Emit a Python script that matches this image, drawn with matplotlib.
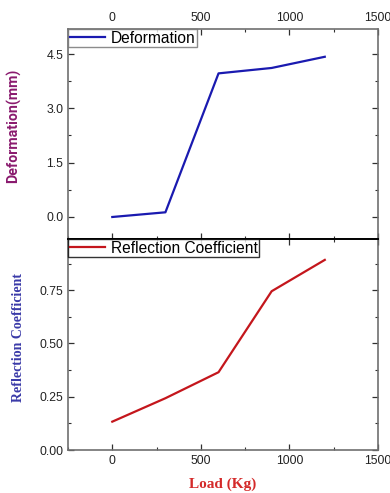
import matplotlib

matplotlib.use("Agg")

import matplotlib.pyplot as plt
from matplotlib.ticker import MultipleLocator

plt.rcParams["font.family"] = ["Liberation Sans", "DejaVu Sans"]

# data
load_kg = [0, 300, 600, 900, 1200]
deformation_mm = [-0.01, 0.12, 3.97, 4.12, 4.43]
reflection_coef = [0.133, 0.243, 0.365, 0.745, 0.892]

x_ticks = [0, 500, 1000, 1500]
deform_ticks = [0.0, 1.5, 3.0, 4.5]
refl_ticks = [0.00, 0.25, 0.50, 0.75]

SPINE = "#707070"
SANS = ["Liberation Sans", "DejaVu Sans"]
SERIF = ["Liberation Serif", "DejaVu Serif"]


def style_axes(ax, top_labels):
    for side in ["left", "right", "top", "bottom"]:
        ax.spines[side].set_color(SPINE)
        ax.spines[side].set_linewidth(1.2)
    ax.tick_params(which="both", direction="in", top=True, right=True, bottom=True, left=True,
                   color="#303030", labelsize=8.8, labelcolor="#222222")
    ax.tick_params(which="major", length=4, width=0.9)
    ax.tick_params(which="minor", length=2.5, width=0.8)
    ax.tick_params(axis="x", labeltop=top_labels, labelbottom=not top_labels)
    ax.xaxis.set_minor_locator(MultipleLocator(250))
    ax.set_xticks(x_ticks)
    ax.set_xlim(-250, 1500)


def add_legend(ax, edge):
    leg = ax.legend(loc="upper left", bbox_to_anchor=(0.0, 1.0), borderaxespad=0.0,
                    prop={"family": SANS, "size": 11.2}, frameon=True, fancybox=False,
                    handlelength=2.3, borderpad=0.1, handletextpad=0.35)
    leg.get_frame().set_edgecolor(edge)
    leg.get_frame().set_linewidth(1.0)
    return leg


fig = plt.figure(figsize=(3.9, 4.93), dpi=100)
ax1 = fig.add_axes([0.1744, 0.5152, 0.7946, 0.4260])
ax2 = fig.add_axes([0.1744, 0.0872, 0.7946, 0.4280])

ax1.plot(load_kg, deformation_mm, color="#1a1ab0", lw=1.6, label="Deformation")
style_axes(ax1, top_labels=True)
ax1.set_ylim(-0.62, 5.2)
ax1.set_yticks(deform_ticks)
ax1.set_yticklabels([f"{v:.1f}" for v in deform_ticks])
ax1.yaxis.set_minor_locator(MultipleLocator(0.75))
ax1.set_ylabel("Deformation(mm)", color="#8a1a6e", fontsize=10.2, fontweight="bold",
               family=["Roboto", "Liberation Sans", "DejaVu Sans"])
ax1.yaxis.set_label_coords(-0.15, 0.54)
add_legend(ax1, SPINE)

ax2.plot(load_kg, reflection_coef, color="#c4161c", lw=1.6, label="Reflection Coefficient")
style_axes(ax2, top_labels=False)
ax2.spines["top"].set_color("black")
ax2.spines["top"].set_linewidth(1.4)
ax2.set_ylim(0, 0.99)
ax2.set_yticks(refl_ticks)
ax2.set_yticklabels([f"{v:.2f}" for v in refl_ticks])
ax2.yaxis.set_minor_locator(MultipleLocator(0.125))
ax2.set_ylabel("Reflection Coefficient", color="#3a3aa8", fontsize=10, fontweight="bold", family=SERIF)
ax2.yaxis.set_label_coords(-0.14, 0.535)
ax2.set_xlabel("Load (Kg)", color="#d42a2a", fontsize=11, fontweight="bold", family=SERIF, labelpad=8)
add_legend(ax2, "black")

fig.savefig("out.png", dpi=100)
